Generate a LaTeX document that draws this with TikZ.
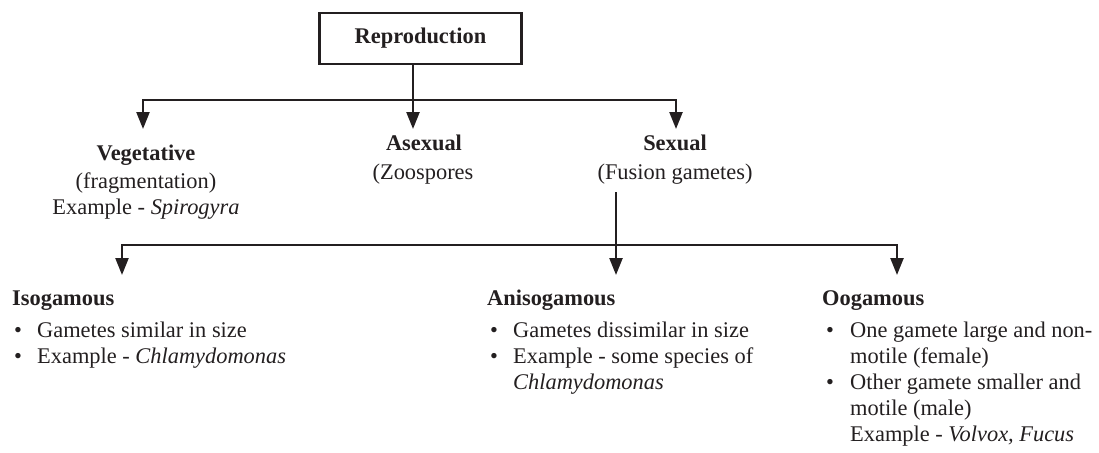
\documentclass[tikz,border=0pt]{standalone}
\usepackage{fontspec}
\setmainfont{Liberation Serif}
\usetikzlibrary{arrows.meta}
\definecolor{ink}{RGB}{35,31,32}
\begin{document}
\begin{tikzpicture}[x=1pt,y=-1pt,
  txt/.style={inner sep=0pt, font=\fontsize{22.4}{27}\selectfont, text=ink},
  hd/.style={inner sep=0pt, font=\fontsize{22.4}{27}\selectfont\bfseries, text=ink},
  ln/.style={draw=ink, line width=2.4pt, line join=miter},
  tip/.tip={Triangle[length=17pt,width=13pt]},
  arr/.style={ln, -tip},
  barr/.style={ln, tip-tip},
  ]
\useasboundingbox (0,0) rectangle (1099,452);

% root
\node[hd, draw=ink, line width=2.4pt, minimum width=202pt, minimum height=51pt] (repro) at (420.5,38.5) {Reproduction};

% first level
\node[hd, anchor=base] (veg) at (146,160) {Vegetative};
\node[txt, anchor=base] (vegA) at (146,188) {(fragmentation)};
\node[txt, anchor=base] (vegB) at (146,214) {Example - \textit{Spirogyra}};
\node[hd, anchor=base] (asex) at (424,150) {Asexual};
\node[txt, anchor=base] (asexA) at (423,179) {(Zoospores};
\node[hd, anchor=base] (sex) at (675,150) {Sexual};
\node[txt, anchor=base] (sexA) at (675,179) {(Fusion gametes)};

\coordinate (h1L) at (143,100);
\coordinate (h1R) at (676,100);
\coordinate (tV) at (143,129);
\coordinate (tA) at (413,129);
\coordinate (tS) at (676,129);
\draw[arr] ([xshift=-7.5pt]repro.south) -- (tA);
\draw[barr] (tS) -- (h1R) -- (h1L) -- (tV);

% second level connectors
\coordinate (s0) at (616,192);
\coordinate (h2L) at (122,245);
\coordinate (h2R) at (897,245);
\coordinate (tI) at (122,275);
\coordinate (tN) at (616,275);
\coordinate (tO) at (897,275);
\draw[arr] (s0) -- (tN);
\draw[barr] (tI) -- (h2L) -- (h2R) -- (tO);

% Isogamous
\node[hd, anchor=base west] (iso) at (12,305) {Isogamous};
\node[txt, anchor=base west] (iso1) at (14,337) {\makebox[23pt][l]{•}Gametes similar in size};
\node[txt, anchor=base west] (iso2) at (14,363) {\makebox[23pt][l]{•}Example - \textit{Chlamydomonas}};

% Anisogamous
\node[hd, anchor=base west] (ani) at (487,305) {Anisogamous};
\node[txt, anchor=base west] (ani1) at (490,337) {\makebox[23pt][l]{•}Gametes dissimilar in size};
\node[txt, anchor=base west] (ani2) at (490,363) {\makebox[23pt][l]{•}Example - some species of};
\node[txt, anchor=base west] (ani3) at (513,389) {\textit{Chlamydomonas}};

% Oogamous
\node[hd, anchor=base west] (oog) at (822,305) {Oogamous};
\node[txt, anchor=base west] (oog1) at (826,337) {\makebox[24pt][l]{•}One gamete large and non-};
\node[txt, anchor=base west] (oog2) at (850,363) {motile (female)};
\node[txt, anchor=base west] (oog3) at (826,389) {\makebox[24pt][l]{•}Other gamete smaller and};
\node[txt, anchor=base west] (oog4) at (850,415) {motile (male)};
\node[txt, anchor=base west] (oog5) at (850,441) {Example - \textit{Volvox, Fucus}};
\end{tikzpicture}
\end{document}
